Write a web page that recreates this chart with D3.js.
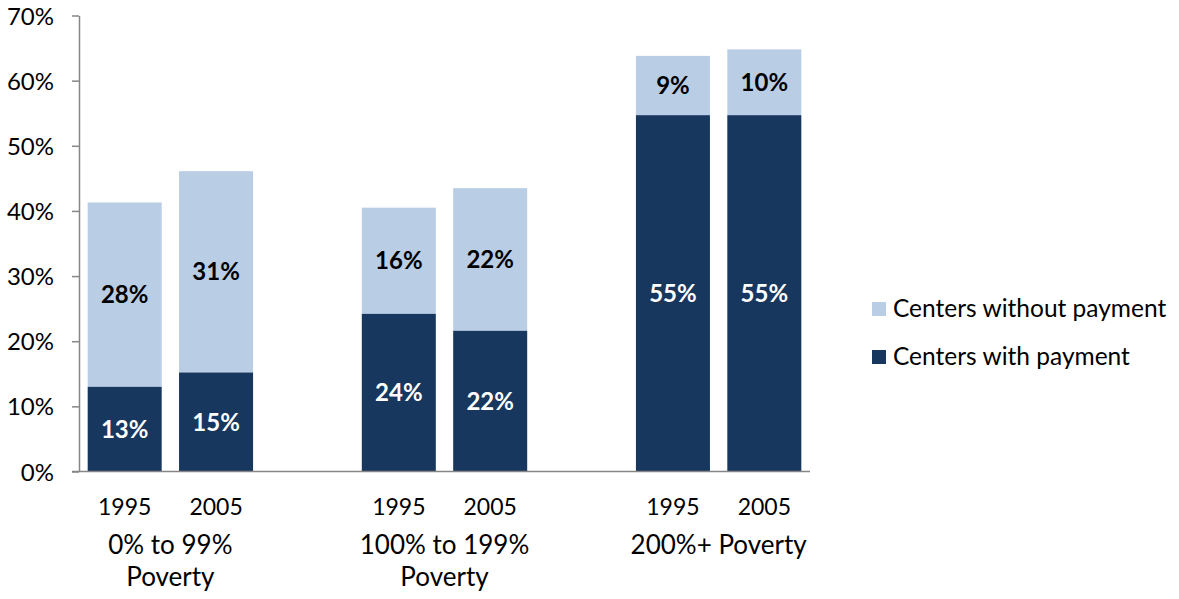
<!DOCTYPE html>
<html><head><meta charset="utf-8">
<script src="https://cdn.jsdelivr.net/npm/d3@7"></script>
<style>
html,body{margin:0;padding:0;background:#fff;}
text{font-family:Lato, "Open Sans", sans-serif;}
</style></head>
<body><svg id="c" width="1179" height="599"></svg>
<script>
// ---- data ----
const groups = ["0% to 99%|Poverty", "100% to 199%|Poverty", "200%+ Poverty"];
const years = ["1995", "2005"];
const withPayment = [13, 15, 24, 22, 55, 55];        // dark segment labels
const withoutPayment = [28, 31, 16, 22, 9, 10];      // light segment labels
const dispWith = [13.0, 15.2, 24.2, 21.6, 54.7, 54.7];
const dispWithout = [28.3, 30.9, 16.3, 21.9, 9.1, 10.1];
const yTicks = [0, 10, 20, 30, 40, 50, 60, 70];
const seriesNames = ["Centers without payment", "Centers with payment"];
const colors = {without: "#B9CDE5", with: "#17375E"};

// ---- layout ----
const svg = d3.select("#c");
const x0 = 79, x1 = 810, yBase = 471.5, yTop = 15.5;
// 8 category slots: 2 bars, blank, 2 bars, blank, 2 bars
const slots = d3.range(8).map(String);
const x = d3.scaleBand().domain(slots).range([x0, x1]).paddingInner(0.19).paddingOuter(0.095);
const y = d3.scaleLinear().domain([0, 70]).range([yBase, yTop]);

const bars = [];
groups.forEach((g, gi) => years.forEach((yr, yi) => {
  const i = gi * 2 + yi;
  bars.push({slot: String(gi * 3 + yi), year: yr, w: dispWith[i], wo: dispWithout[i], lw: withPayment[i], lwo: withoutPayment[i]});
}));

// axes
const yAxis = d3.axisLeft(y).tickValues(yTicks).tickFormat(d => d + "%").tickSize(7).tickSizeOuter(0);
const ga = svg.append("g").attr("transform", `translate(${x0},0)`).call(yAxis);
ga.select(".domain").attr("stroke", "#868686").attr("stroke-width", 1.5);
ga.selectAll(".tick line").attr("stroke", "#868686").attr("stroke-width", 1.5);
ga.selectAll(".tick text").attr("font-size", 24).attr("fill", "#000").attr("x", -25).attr("dy", "0.36em")
  .style("font-family", "Lato, sans-serif");

// bars
const bg = svg.append("g");
bg.selectAll("rect.wo").data(bars).join("rect")
  .attr("x", d => x(d.slot)).attr("width", x.bandwidth())
  .attr("y", d => y(d.w + d.wo)).attr("height", d => y(d.w) - y(d.w + d.wo))
  .attr("fill", colors.without);
bg.selectAll("rect.w").data(bars).join("rect")
  .attr("x", d => x(d.slot)).attr("width", x.bandwidth())
  .attr("y", d => y(d.w)).attr("height", d => y(0) - y(d.w))
  .attr("fill", colors.with);

// x axis line
svg.append("line").attr("x1", x0 - 7).attr("x2", x1).attr("y1", yBase).attr("y2", yBase)
  .attr("stroke", "#868686").attr("stroke-width", 1.5);

// labels
bg.selectAll("text.lw").data(bars).join("text")
  .attr("x", d => x(d.slot) + x.bandwidth() / 2).attr("y", d => (y(0) + y(d.w)) / 2).attr("dy", "0.36em")
  .attr("text-anchor", "middle").attr("font-size", 24).attr("font-weight", "bold").attr("fill", "#fff")
  .text(d => d.lw + "%");
bg.selectAll("text.lwo").data(bars).join("text")
  .attr("x", d => x(d.slot) + x.bandwidth() / 2).attr("y", d => (y(d.w) + y(d.w + d.wo)) / 2).attr("dy", "0.36em")
  .attr("text-anchor", "middle").attr("font-size", 24).attr("font-weight", "bold").attr("fill", "#000")
  .text(d => d.lwo + "%");

// year labels
svg.append("g").selectAll("text").data(bars).join("text")
  .attr("x", d => x(d.slot) + x.bandwidth() / 2).attr("y", 515)
  .attr("text-anchor", "middle").attr("font-size", 23).attr("fill", "#000").text(d => d.year);

// group labels
groups.forEach((g, gi) => {
  const cx = (x(String(gi * 3)) + x(String(gi * 3 + 1)) + x.bandwidth()) / 2;
  const lines = g.split("|");
  const t = svg.append("text").attr("text-anchor", "middle").attr("font-size", 26).attr("fill", "#000");
  lines.forEach((l, li) => t.append("tspan").attr("x", cx).attr("y", 554 + li * 32).text(l));
});

// legend
const leg = svg.append("g");
const legItems = [{name: seriesNames[0], c: colors.without, y: 302}, {name: seriesNames[1], c: colors.with, y: 350}];
legItems.forEach(it => {
  leg.append("rect").attr("x", 872).attr("y", it.y).attr("width", 14).attr("height", 14).attr("fill", it.c);
  leg.append("text").attr("x", 893).attr("y", it.y + 15).attr("font-size", 24.5).attr("fill", "#000").text(it.name);
});
</script></body></html>
